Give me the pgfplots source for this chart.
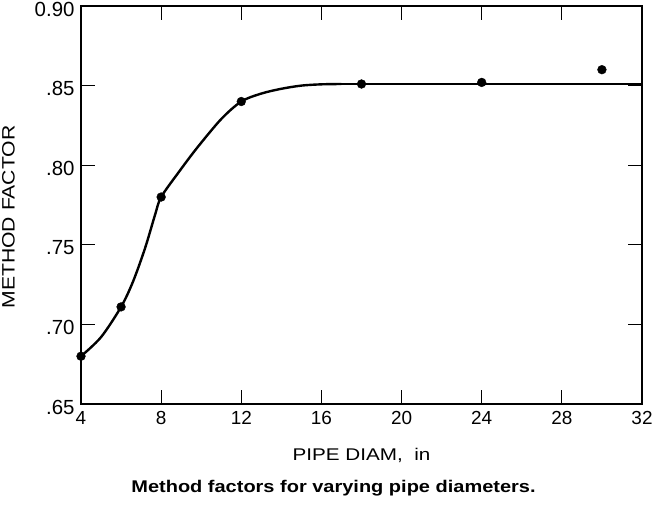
\documentclass[border=0pt]{standalone}
\usepackage{fontspec}
\setmainfont{Liberation Sans}
\usepackage{graphicx}
\usepackage{pgfplots}
\pgfplotsset{compat=1.18}
\begin{document}
\begin{tikzpicture}
\begin{axis}[
  name=ax,
  scale only axis, width=561bp, height=398bp,
  xmin=4, xmax=32, ymin=0.65, ymax=0.90,
  xtick={4,8,12,16,20,24,28,32},
  ytick={0.65,0.70,0.75,0.80,0.85,0.90},
  yticklabels={.65,.70,.75,.80,.85,0.90},
  tick align=inside, major tick length=14bp,
  axis line style={line width=2bp},
  tick style={line width=1.1bp, black},
  /pgf/number format/assume math mode=true,
  xticklabel style={font=\fontsize{19}{19}\selectfont, yshift=-4bp},
  yticklabel style={font=\fontsize{20.5}{20.5}\selectfont, xshift=-3bp, yshift=-3bp},
  xlabel={\scalebox{1.22}[1]{PIPE DIAM,\ \ in}},
  ylabel={\scalebox{1.18}[1]{METHOD FACTOR}},
  xlabel style={font=\fontsize{17}{17}\selectfont, yshift=-16bp},
  ylabel style={font=\fontsize{18}{18}\selectfont, yshift=13bp, xshift=-12bp},
]
\addplot[black, line width=2.4bp, smooth, tension=0.5] coordinates {
  (4,0.680) (5,0.692) (6,0.711) (6.6,0.727) (7.2,0.748) (7.7,0.769) (8,0.780)
  (8.9,0.796) (9.8,0.811) (11,0.829) (12,0.840) (13,0.845) (14,0.848)
  (15,0.850) (16,0.8508) (17,0.851)
};
\addplot[black, line width=2.4bp] coordinates {
  (17,0.851) (20,0.851) (24,0.851) (28,0.851) (32,0.851)
};
\addplot[only marks, mark=*, mark size=4.4bp, black] coordinates {
  (4,0.680) (6,0.711) (8,0.780) (12,0.840) (18,0.851) (24,0.852) (30,0.860)
};
\end{axis}
\node[font=\bfseries\fontsize{17}{17}\selectfont, anchor=base]
  at ([xshift=-28bp, yshift=-88bp]ax.south) {\scalebox{1.18}[1]{Method factors for varying pipe diameters.}};
\pgfresetboundingbox
\path ([xshift=-81bp,yshift=-104bp]ax.south west) rectangle ([xshift=16bp,yshift=6bp]ax.north east);
\end{tikzpicture}
\end{document}
